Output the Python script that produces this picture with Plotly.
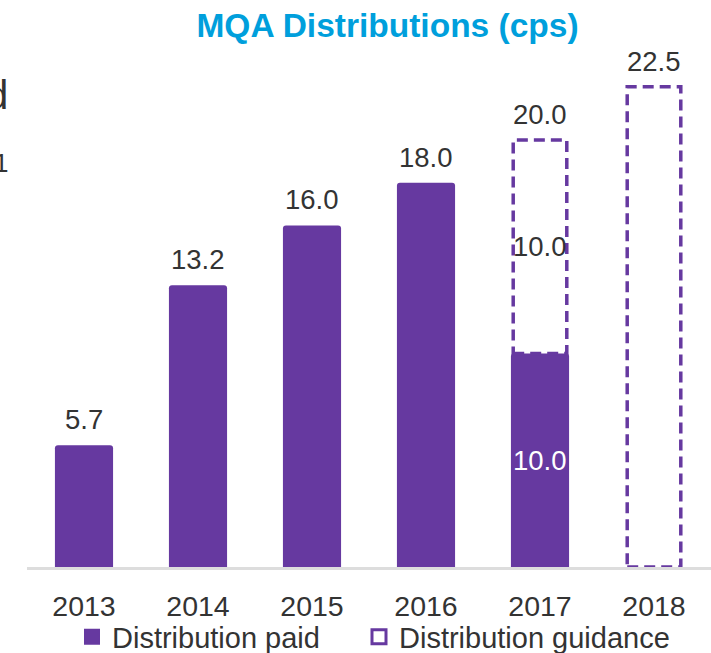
import plotly.graph_objects as go

years = ["2013", "2014", "2015", "2016", "2017", "2018"]
paid = [5.7, 13.2, 16.0, 18.0, 10.0, None]
guidance_base = [None, None, None, None, 10.0, 0.0]
guidance_total = [None, None, None, None, 20.0, 22.5]

PURPLE = "#6639A0"
DARK = "#333333"
FONT = "Arial, Liberation Sans, sans-serif"
LBL = 27.5

xs = list(range(len(years)))

fig = go.Figure()
fig.add_trace(go.Bar(
    x=xs, y=paid, name="Distribution paid", showlegend=False,
    marker=dict(color=PURPLE, cornerradius=3, line=dict(width=0)),
    hoverinfo="skip",
))
fig.add_trace(go.Scatter(
    x=[None], y=[None], mode="markers", name="Distribution paid", legend="legend",
    marker=dict(symbol="square", size=16, color=PURPLE),
))
fig.add_trace(go.Scatter(
    x=[None], y=[None], mode="markers", name="Distribution guidance", legend="legend2",
    marker=dict(symbol="square-open", size=14, color=PURPLE, line=dict(width=3, color=PURPLE)),
))

half = 0.235
shapes = []
annotations = []
for i, (p, gb, gt) in enumerate(zip(paid, guidance_base, guidance_total)):
    if gt is not None:
        shapes.append(dict(
            type="rect", xref="x", yref="y",
            x0=i - half, x1=i + half, y0=gb, y1=gt,
            line=dict(color=PURPLE, width=3.5, dash="11px,6px"),
            fillcolor="rgba(0,0,0,0)", layer="above",
        ))
        annotations.append(dict(x=i, y=gt, text=f"{gt:.1f}", showarrow=False,
                                yanchor="bottom", yshift=8,
                                font=dict(size=LBL, color=DARK, family=FONT)))
        if p is not None:
            annotations.append(dict(x=i, y=(gb + gt) / 2, text=f"{gt - gb:.1f}", showarrow=False,
                                    yanchor="middle",
                                    font=dict(size=LBL, color=DARK, family=FONT)))
            annotations.append(dict(x=i, y=p / 2, text=f"{p:.1f}", showarrow=False,
                                    yanchor="middle",
                                    font=dict(size=LBL, color="white", family=FONT)))
    elif p is not None:
        annotations.append(dict(x=i, y=p, text=f"{p:.1f}", showarrow=False,
                                yanchor="bottom", yshift=8,
                                font=dict(size=LBL, color=DARK, family=FONT)))

# cropped text fragments at the left edge of the slide
annotations.append(dict(xref="paper", yref="paper", x=(10 - 27) / 684, y=(567 - 95) / 507,
                        text="d", showarrow=False, xanchor="right", yanchor="middle",
                        font=dict(size=40, color=DARK, family=FONT)))
annotations.append(dict(xref="paper", yref="paper", x=(10 - 27) / 684, y=(567 - 163) / 507,
                        text="1", showarrow=False, xanchor="right", yanchor="middle",
                        font=dict(size=26, color=DARK, family=FONT)))

leg_common = dict(orientation="h", yanchor="middle", y=-(637 - 567) / 507,
                  font=dict(size=29, color=DARK, family=FONT),
                  itemwidth=30, bgcolor="rgba(0,0,0,0)", xanchor="left")

fig.update_layout(
    width=711, height=653,
    margin=dict(l=27, r=0, t=60, b=86, autoexpand=False),
    paper_bgcolor="white", plot_bgcolor="white",
    font=dict(family=FONT, size=28.5, color=DARK),
    title=dict(text="<b>MQA Distributions (cps)</b>", x=387.5 / 711, xref="container", xanchor="center",
               y=1 - 25 / 653, yanchor="middle",
               font=dict(size=33.5, color="#009FDC", family=FONT)),
    bargap=0.49,
    showlegend=True,
    legend=dict(x=(72 - 27) / 684, **leg_common),
    legend2=dict(x=(359 - 27) / 684, **leg_common),
    shapes=shapes,
    annotations=annotations,
    xaxis=dict(tickmode="array", tickvals=xs, ticktext=years, range=[-0.5, 5.5],
               showline=True, linecolor="#DDDDDD", linewidth=3, showgrid=False, zeroline=False,
               ticks="", ticklabelstandoff=12, tickangle=0, automargin=False,
               tickfont=dict(size=28.5, color=DARK, family=FONT), fixedrange=True),
    yaxis=dict(range=[0, 23.75], visible=False, showgrid=False, zeroline=False, fixedrange=True,
               automargin=False),
)

fig.write_html("out.html", config={"displayModeBar": False},
               post_script="document.body.style.margin='0';")
